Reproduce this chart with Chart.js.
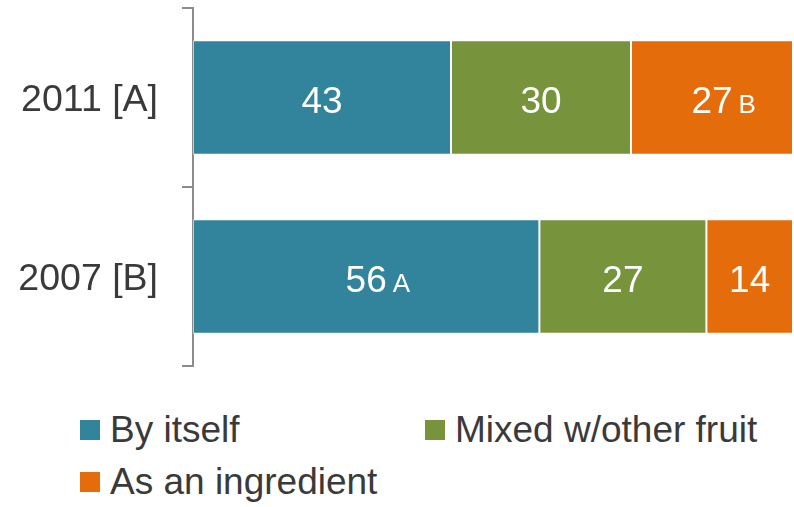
<!DOCTYPE html>
<html>
<head>
<meta charset="utf-8">
<script src="https://cdn.jsdelivr.net/npm/chart.js@4"></script>
<style>
  body { margin: 0; background: #fff; font-family: "Liberation Sans", Arial, sans-serif; }
  #wrap { position: relative; width: 794px; height: 507px; }
  #chartBox { position: absolute; left: 0; top: 0; width: 794px; height: 380px; }
  .leg { position: absolute; font-size: 37px; color: #3a3a3a; line-height: 1; white-space: nowrap; }
  .leg span { display: inline-block; width: 20px; height: 20px; margin-right: 10px; vertical-align: 2px; }
</style>
</head>
<body>
<div id="wrap">
  <div id="chartBox"><canvas id="fruitChart" width="794" height="380"></canvas></div>
  <div id="legend"></div>
</div>
<script>
// categories + series (percent of respondents)
const categories = ["2011 [A]", "2007 [B]"];
const seriesNames = ["By itself", "Mixed w/other fruit", "As an ingredient"];
const byItself = [43, 56];
const mixedFruit = [30, 27];
const asIngredient = [27, 14];
// significance letters shown next to the numbers
const byItselfSig = ["", "A"];
const mixedFruitSig = ["", ""];
const asIngredientSig = ["B", ""];

const colors = ["#31849b", "#77933c", "#e46c0a"];

document.addEventListener("DOMContentLoaded", function () {
    let rows = [byItself, mixedFruit, asIngredient];
    let sigs = [byItselfSig, mixedFruitSig, asIngredientSig];
    // each bar is drawn as a share of its own total, so both fill the width
    let totals = categories.map((c, i) => rows.reduce((s, r) => s + r[i], 0));

    let datasets = rows.map((r, k) => ({
        label: seriesNames[k],
        data: r.map((v, i) => v / totals[i] * 100),
        raw: r,
        sig: sigs[k],
        backgroundColor: colors[k],
        borderColor: "rgba(255,255,255,0.55)",
        borderWidth: 1,
        borderSkipped: false,
        categoryPercentage: 1,
        barPercentage: 0.64
    }));

    // white value labels in the middle of each segment
    const valueLabels = {
        id: "valueLabels",
        afterDatasetsDraw(chart) {
            let ctx = chart.ctx;
            ctx.save();
            ctx.fillStyle = "#ffffff";
            chart.data.datasets.forEach((ds, k) => {
                chart.getDatasetMeta(k).data.forEach((bar, i) => {
                    let cx = (bar.x + bar.base) / 2;
                    let baseLine = bar.y + 15;
                    ctx.font = "37px 'Liberation Sans', Arial, sans-serif";
                    ctx.textAlign = "center";
                    ctx.textBaseline = "alphabetic";
                    let txt = String(ds.raw[i]);
                    ctx.fillText(txt, cx, baseLine);
                    if (ds.sig[i]) {
                        let w = ctx.measureText(txt).width;
                        ctx.font = "26px 'Liberation Sans', Arial, sans-serif";
                        ctx.textAlign = "left";
                        ctx.fillText(ds.sig[i], cx + w / 2 + 6, baseLine);
                    }
                });
            });
            ctx.restore();
        }
    };

    new Chart(document.getElementById("fruitChart"), {
        type: "bar",
        data: { labels: categories, datasets: datasets },
        options: {
            indexAxis: "y",
            responsive: false,
            animation: false,
            layout: { padding: { top: 8, right: 1, bottom: 14, left: 0 } },
            plugins: {
                legend: { display: false },
                tooltip: { enabled: false }
            },
            scales: {
                x: { stacked: true, min: 0, max: 100, display: false },
                y: {
                    stacked: true,
                    afterFit: s => { s.width = 193; s.paddingTop = 0; s.paddingBottom = 0; },
                    border: { display: true, color: "#8c8c8c", width: 2 },
                    grid: {
                        display: true,
                        drawOnChartArea: false,
                        drawTicks: true,
                        tickLength: 11,
                        color: "#8c8c8c",
                        lineWidth: 2
                    },
                    ticks: {
                        padding: 24,
                        labelOffset: 3,
                        color: "#3a3a3a",
                        font: { family: "'Liberation Sans', Arial, sans-serif", size: 37.5, lineHeight: 0.1 }
                    }
                }
            }
        },
        plugins: [valueLabels]
    });

    // html legend, two columns
    let legendPos = [[80, 411], [425, 411], [80, 463]];
    let legend = document.getElementById("legend");
    seriesNames.forEach((name, k) => {
        let div = document.createElement("div");
        div.className = "leg";
        div.style.left = legendPos[k][0] + "px";
        div.style.top = legendPos[k][1] + "px";
        div.innerHTML = '<span style="background:' + colors[k] + '"></span>' + name;
        legend.appendChild(div);
    });
});
</script>
</body>
</html>
